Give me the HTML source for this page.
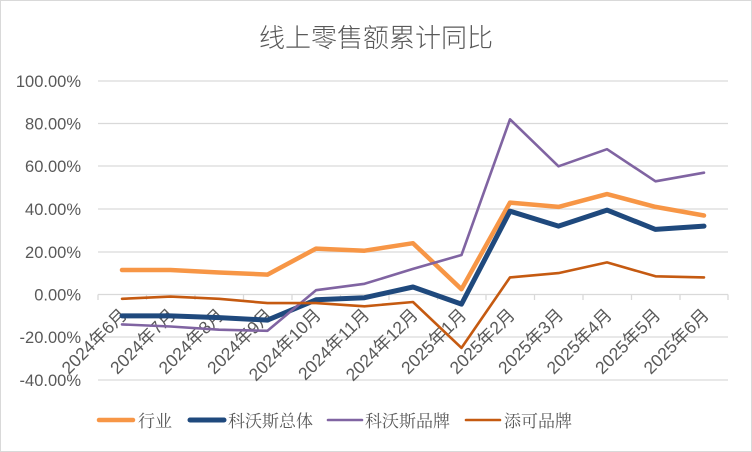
<!DOCTYPE html>
<html><head><meta charset="utf-8"><style>
body{margin:0;background:#fff}
svg{display:block}
text{fill:#595959}
</style></head><body>
<svg width="752" height="452" xmlns="http://www.w3.org/2000/svg">
<rect x="0.5" y="0.5" width="751" height="451" fill="#fff" stroke="#d9d9d9"/>
<text x="376" y="47" text-anchor="middle" font-family="Noto Sans CJK SC, sans-serif" font-weight="300" font-size="26">线上零售额累计同比</text>
<g stroke="#d9d9d9" stroke-width="1.3">
<line x1="98" x2="728" y1="81" y2="81"/><line x1="98" x2="728" y1="123.5" y2="123.5"/><line x1="98" x2="728" y1="166" y2="166"/><line x1="98" x2="728" y1="209" y2="209"/><line x1="98" x2="728" y1="252" y2="252"/><line x1="98" x2="728" y1="337" y2="337"/><line x1="98" x2="728" y1="380" y2="380"/>
<line x1="98" x2="728" y1="294.5" y2="294.5"/>
</g>
<g stroke="#d9d9d9" stroke-width="1.3">
<line x1="98" x2="98" y1="294.5" y2="300"/><line x1="146.5" x2="146.5" y1="294.5" y2="300"/><line x1="195" x2="195" y1="294.5" y2="300"/><line x1="243.5" x2="243.5" y1="294.5" y2="300"/><line x1="292" x2="292" y1="294.5" y2="300"/><line x1="340.5" x2="340.5" y1="294.5" y2="300"/><line x1="389" x2="389" y1="294.5" y2="300"/><line x1="437.5" x2="437.5" y1="294.5" y2="300"/><line x1="486" x2="486" y1="294.5" y2="300"/><line x1="534.5" x2="534.5" y1="294.5" y2="300"/><line x1="583" x2="583" y1="294.5" y2="300"/><line x1="631.5" x2="631.5" y1="294.5" y2="300"/><line x1="680" x2="680" y1="294.5" y2="300"/><line x1="728" x2="728" y1="294.5" y2="300"/>
</g>
<g font-family="Liberation Sans, sans-serif" font-size="16.5" text-anchor="end">
<text x="81" y="87">100.00%</text><text x="81" y="129.5">80.00%</text><text x="81" y="172">60.00%</text><text x="81" y="215">40.00%</text><text x="81" y="258">20.00%</text><text x="81" y="300.5">0.00%</text><text x="81" y="343">-20.00%</text><text x="81" y="386">-40.00%</text>
</g>
<g font-family="Liberation Sans, Noto Sans CJK SC, sans-serif" font-size="17.5" text-anchor="end">
<text transform="translate(128,316) rotate(-45)">2024年6月</text>
<text transform="translate(176.5,316) rotate(-45)">2024年7月</text>
<text transform="translate(225,316) rotate(-45)">2024年8月</text>
<text transform="translate(273.5,316) rotate(-45)">2024年9月</text>
<text transform="translate(322,316) rotate(-45)">2024年10月</text>
<text transform="translate(370.5,316) rotate(-45)">2024年11月</text>
<text transform="translate(419,316) rotate(-45)">2024年12月</text>
<text transform="translate(467.5,316) rotate(-45)">2025年1月</text>
<text transform="translate(516,316) rotate(-45)">2025年2月</text>
<text transform="translate(564.5,316) rotate(-45)">2025年3月</text>
<text transform="translate(613,316) rotate(-45)">2025年4月</text>
<text transform="translate(661.5,316) rotate(-45)">2025年5月</text>
<text transform="translate(710,316) rotate(-45)">2025年6月</text>
</g>
<g fill="none" stroke-linejoin="round" stroke-linecap="round">
<polyline stroke="#F79646" stroke-width="4.5" points="122,270 170.5,270 219,272.5 267.5,274.6 316,248.6 364.5,250.7 413,243.2 461.5,289.2 510,202.6 558.5,206.9 607,194.1 655.5,206.9 704,215.5"/>
<polyline stroke="#1F497D" stroke-width="5" points="122,315.9 170.5,315.9 219,317.6 267.5,320.1 316,299.8 364.5,297.7 413,287 461.5,304.1 510,211.2 558.5,226.1 607,210.1 655.5,229.4 704,226.1"/>
<polyline stroke="#8064A2" stroke-width="2.6" points="122,324.4 170.5,326.5 219,329.7 267.5,330.8 316,290.2 364.5,283.8 413,268.9 461.5,255 510,119.3 558.5,166.3 607,149.2 655.5,181.3 704,172.7"/>
<polyline stroke="#C55A11" stroke-width="2.6" points="122,298.8 170.5,296.6 219,298.8 267.5,303.1 316,303.1 364.5,306.3 413,302 461.5,347.9 510,277.4 558.5,273.1 607,262.4 655.5,276.3 704,277.4"/>
</g>
<g stroke-linecap="round">
<line x1="99" x2="133" y1="420" y2="420" stroke="#F79646" stroke-width="4.5"/>
<line x1="190" x2="224" y1="420" y2="420" stroke="#1F497D" stroke-width="5"/>
<line x1="328" x2="362" y1="420" y2="420" stroke="#8064A2" stroke-width="2.6"/>
<line x1="466" x2="500" y1="420" y2="420" stroke="#C55A11" stroke-width="2.6"/>
</g>
<g font-family="Noto Serif CJK SC, serif" font-size="17">
<text x="138" y="427">行业</text><text x="228" y="427">科沃斯总体</text><text x="365" y="427">科沃斯品牌</text><text x="504" y="427">添可品牌</text>
</g>
</svg>
</body></html>
